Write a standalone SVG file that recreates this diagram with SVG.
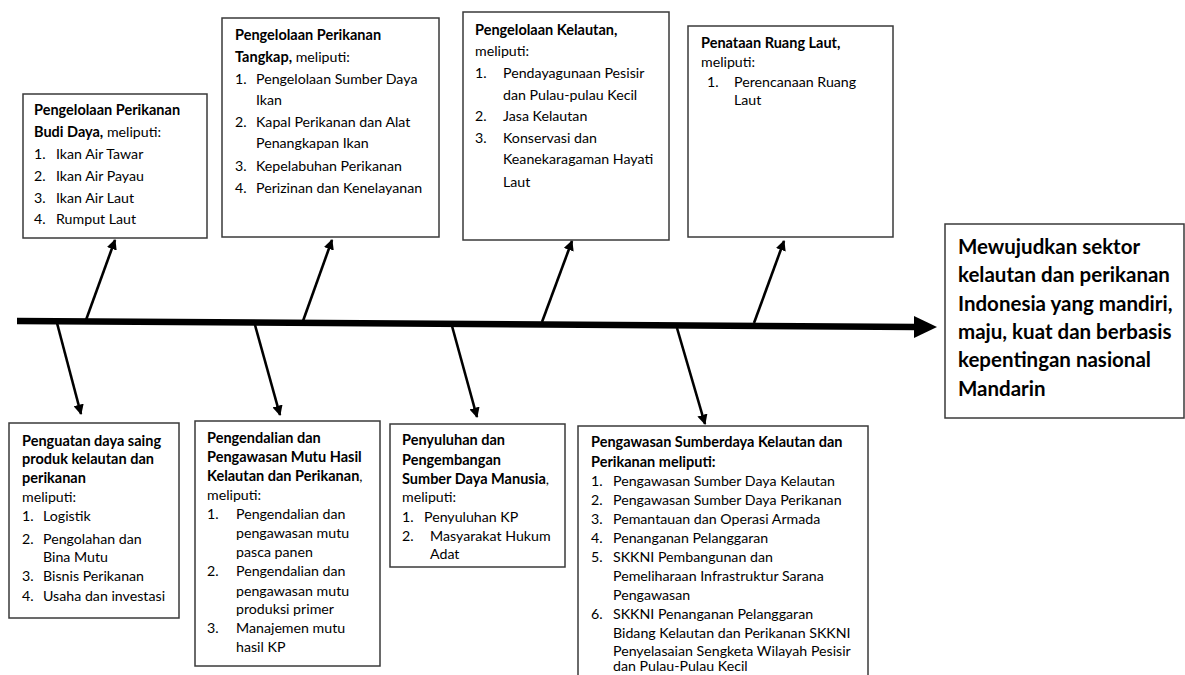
<svg xmlns="http://www.w3.org/2000/svg" width="1185" height="675" viewBox="0 0 1185 675">
<style>
.box{fill:#fff;stroke:#3a3a3a;stroke-width:1.5}
text{font-family:Lato,"Liberation Sans",sans-serif;font-size:14.2px;fill:#000}
.b{font-weight:bold;font-size:14.5px}
.big{font-size:20.5px;font-weight:bold}
.br{stroke:#000;stroke-width:2.6;fill:none;marker-end:url(#ah)}
</style>
<defs>
<marker id="ah" viewBox="0 0 10 10" refX="9" refY="5" markerWidth="4" markerHeight="4" orient="auto" markerUnits="strokeWidth">
<path d="M0,0 L10,5 L0,10 z" fill="#000"/>
</marker>
</defs>
<rect width="1185" height="675" fill="#fff"/>
<g id="connectors">
<line x1="17" y1="321" x2="916" y2="327" stroke="#000" stroke-width="6.5"/>
<polygon points="914,316 937,327 914,338" fill="#000"/>
<line class="br" x1="86" y1="320" x2="115" y2="240"/>
<line class="br" x1="303" y1="321" x2="332" y2="240"/>
<line class="br" x1="542" y1="322" x2="572" y2="241"/>
<line class="br" x1="754" y1="323" x2="784" y2="241"/>
<line class="br" x1="57" y1="323" x2="81" y2="414"/>
<line class="br" x1="255" y1="325" x2="280" y2="415"/>
<line class="br" x1="452" y1="326" x2="477" y2="417"/>
<line class="br" x1="677" y1="328" x2="705" y2="424"/>
</g>
<g id="budidaya">
<rect class="box" x="23" y="94" width="184" height="144"/>
<text x="34" y="115" class="b">Pengelolaan Perikanan</text>
<text x="34" y="137"><tspan class="b">Budi Daya,</tspan> meliputi:</text>
<text x="34" y="159">1.</text><text x="56" y="159">Ikan Air Tawar</text>
<text x="34" y="181">2.</text><text x="56" y="181">Ikan Air Payau</text>
<text x="34" y="203">3.</text><text x="56" y="203">Ikan Air Laut</text>
<text x="34" y="224">4.</text><text x="56" y="224">Rumput Laut</text>
</g>
<g id="tangkap">
<rect class="box" x="222" y="18" width="217" height="219"/>
<text x="235" y="40" class="b">Pengelolaan Perikanan</text>
<text x="235" y="62"><tspan class="b">Tangkap,</tspan> meliputi:</text>
<text x="235" y="84">1.</text><text x="256" y="84">Pengelolaan Sumber Daya</text>
<text x="256" y="105">Ikan</text>
<text x="235" y="127">2.</text><text x="256" y="127">Kapal Perikanan dan Alat</text>
<text x="256" y="148">Penangkapan Ikan</text>
<text x="235" y="171">3.</text><text x="256" y="171">Kepelabuhan Perikanan</text>
<text x="235" y="193">4.</text><text x="256" y="193">Perizinan dan Kenelayanan</text>
</g>
<g id="kelautan">
<rect class="box" x="463" y="12" width="206" height="228"/>
<text x="475" y="35" class="b">Pengelolaan Kelautan,</text>
<text x="475" y="56">meliputi:</text>
<text x="475" y="78">1.</text><text x="503" y="78">Pendayagunaan Pesisir</text>
<text x="503" y="100">dan Pulau-pulau Kecil</text>
<text x="475" y="121">2.</text><text x="503" y="121">Jasa Kelautan</text>
<text x="475" y="143">3.</text><text x="503" y="143">Konservasi dan</text>
<text x="503" y="164">Keanekaragaman Hayati</text>
<text x="503" y="187">Laut</text>
</g>
<g id="ruanglaut">
<rect class="box" x="688" y="26" width="205" height="211"/>
<text x="701" y="48" class="b">Penataan Ruang Laut,</text>
<text x="701" y="67">meliputi:</text>
<text x="707" y="87">1.</text><text x="734" y="87">Perencanaan Ruang</text>
<text x="734" y="105">Laut</text>
</g>
<g id="tujuan">
<rect class="box" x="945" y="224" width="239" height="194"/>
<text x="958" y="254" class="big">Mewujudkan sektor</text>
<text x="958" y="282" class="big">kelautan dan perikanan</text>
<text x="958" y="311" class="big">Indonesia yang mandiri,</text>
<text x="958" y="339" class="big">maju, kuat dan berbasis</text>
<text x="958" y="367" class="big">kepentingan nasional</text>
<text x="958" y="396" class="big">Mandarin</text>
</g>
<g id="dayasaing">
<rect class="box" x="9" y="423" width="170" height="195"/>
<text x="22" y="446" class="b">Penguatan daya saing</text>
<text x="22" y="464" class="b">produk kelautan dan</text>
<text x="22" y="483" class="b">perikanan</text>
<text x="22" y="502">meliputi:</text>
<text x="22" y="521">1.</text><text x="43" y="521">Logistik</text>
<text x="22" y="544">2.</text><text x="43" y="544">Pengolahan dan</text>
<text x="43" y="562">Bina Mutu</text>
<text x="22" y="581">3.</text><text x="43" y="581">Bisnis Perikanan</text>
<text x="22" y="601">4.</text><text x="43" y="601">Usaha dan investasi</text>
</g>
<g id="mutu">
<rect class="box" x="195" y="421" width="185" height="245"/>
<text x="207" y="443" class="b">Pengendalian dan</text>
<text x="207" y="462" class="b">Pengawasan Mutu Hasil</text>
<text x="207" y="481"><tspan class="b">Kelautan dan Perikanan</tspan>,</text>
<text x="207" y="500">meliputi:</text>
<text x="207" y="519">1.</text><text x="236" y="519">Pengendalian dan</text>
<text x="236" y="538">pengawasan mutu</text>
<text x="236" y="557">pasca panen</text>
<text x="207" y="576">2.</text><text x="236" y="576">Pengendalian dan</text>
<text x="236" y="596">pengawasan mutu</text>
<text x="236" y="614">produksi primer</text>
<text x="207" y="633">3.</text><text x="236" y="633">Manajemen mutu</text>
<text x="236" y="652">hasil KP</text>
</g>
<g id="sdm">
<rect class="box" x="390" y="424" width="175" height="143"/>
<text x="402" y="445" class="b">Penyuluhan dan</text>
<text x="402" y="465" class="b">Pengembangan</text>
<text x="402" y="484"><tspan class="b">Sumber Daya Manusia</tspan>,</text>
<text x="402" y="502">meliputi:</text>
<text x="402" y="522">1.</text><text x="424" y="522">Penyuluhan KP</text>
<text x="402" y="541">2.</text><text x="430" y="541">Masyarakat Hukum</text>
<text x="430" y="559">Adat</text>
</g>
<g id="pengawasan">
<rect class="box" x="578" y="426" width="290" height="260"/>
<text x="591" y="447" class="b">Pengawasan Sumberdaya Kelautan dan</text>
<text x="591" y="467" class="b">Perikanan meliputi:</text>
<text x="591" y="486">1.</text><text x="613" y="486">Pengawasan Sumber Daya Kelautan</text>
<text x="591" y="505">2.</text><text x="613" y="505">Pengawasan Sumber Daya Perikanan</text>
<text x="591" y="524">3.</text><text x="613" y="524">Pemantauan dan Operasi Armada</text>
<text x="591" y="543">4.</text><text x="613" y="543">Penanganan Pelanggaran</text>
<text x="591" y="562">5.</text><text x="613" y="562">SKKNI Pembangunan dan</text>
<text x="613" y="581">Pemeliharaan Infrastruktur Sarana</text>
<text x="613" y="600">Pengawasan</text>
<text x="591" y="619">6.</text><text x="613" y="619">SKKNI Penanganan Pelanggaran</text>
<text x="613" y="638">Bidang Kelautan dan Perikanan SKKNI</text>
<text x="613" y="656">Penyelasaian Sengketa Wilayah Pesisir</text>
<text x="613" y="671">dan Pulau-Pulau Kecil</text>
</g>
</svg>
